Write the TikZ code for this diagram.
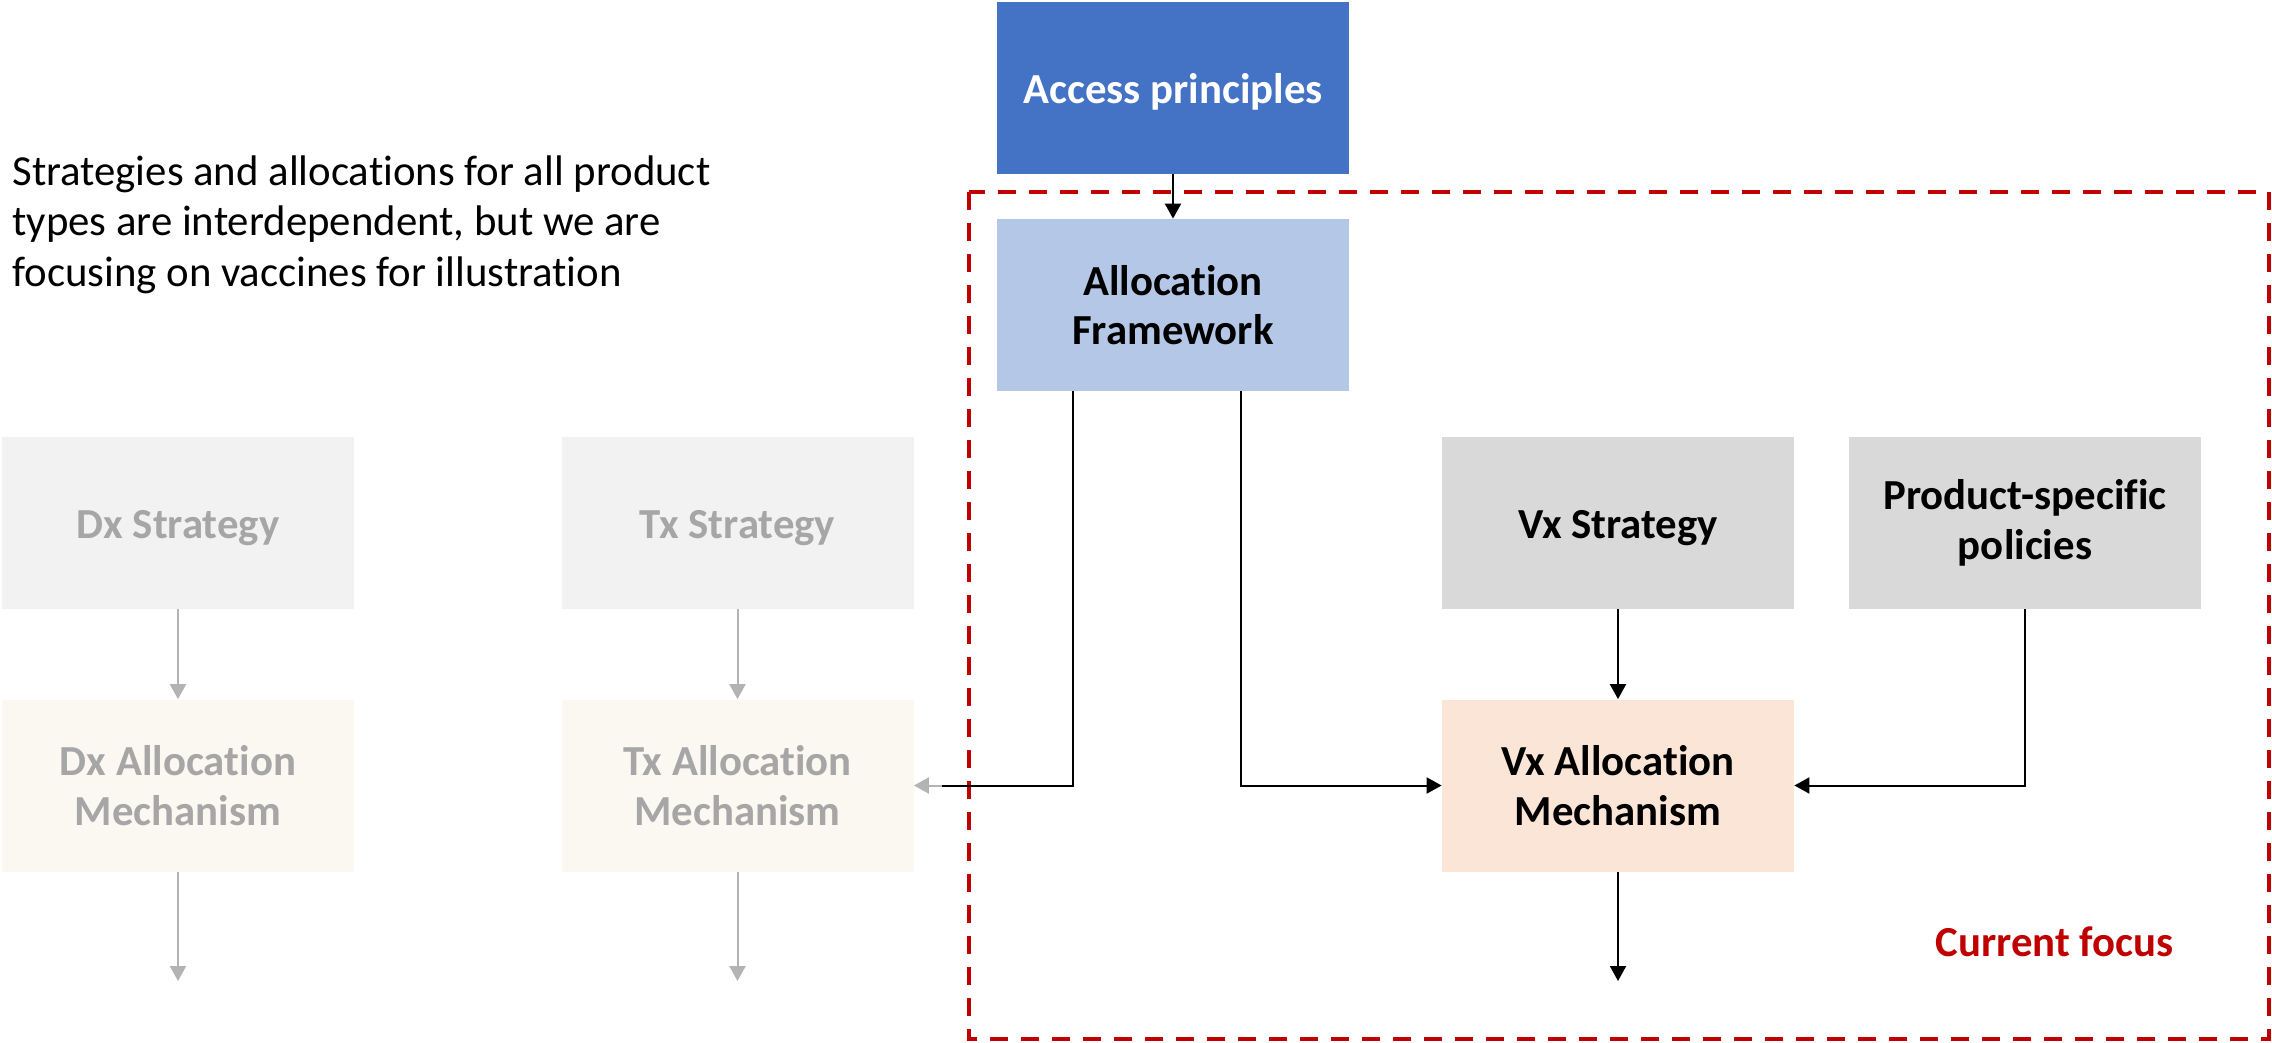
\documentclass[tikz,border=0pt]{standalone}
\usepackage{fontspec}
\setmainfont{Carlito}[Ligatures=NoCommon]
\usetikzlibrary{arrows.meta}
\definecolor{apblue}{HTML}{4472C4}
\definecolor{afblue}{HTML}{B4C7E7}
\definecolor{vxgray}{HTML}{D9D9D9}
\definecolor{vxpeach}{HTML}{FBE5D6}
\definecolor{fadegray}{HTML}{F2F2F2}
\definecolor{fadepeach}{HTML}{FBF7F1}
\definecolor{fadetext}{HTML}{A6A6A6}
\definecolor{fadeline}{HTML}{B3B3B3}
\definecolor{focusred}{HTML}{C00000}
\newcommand\pptTop{\rule{0pt}{20.8pt}}
\newcommand\pptBot{\rule[-5.35pt]{0pt}{0pt}}
\tikzset{
  box/.style={minimum width=176pt, minimum height=86pt, inner sep=0pt, align=center,
    font=\fontsize{21.4}{24.8}\selectfont\bfseries,
    execute at begin node=\pptTop},
  oneline/.style={execute at end node=\pptBot},
  fadebox/.style={box, text=fadetext},
  blk/.style={draw=black, line width=1pt, -{Triangle[length=7.5pt,width=8pt]}},
  blkline/.style={draw=black, line width=1pt},
  fade/.style={draw=fadeline, line width=1pt, -{Triangle[length=7.5pt,width=8pt]}},
  focusbox/.style={draw=focusred, line width=2pt, dash pattern=on 9pt off 6.5pt},
}
\begin{document}
\begin{tikzpicture}[x=0.5pt,y=-0.5pt]
\useasboundingbox[fill=white] (0,0) rectangle (2272,1043);

% focus frame
\draw[focusbox] (969,192) rectangle (2269,1039);

% boxes
\node[box, oneline, fill=apblue, text=white] (ap) at (1173,88) {Access principles};
\node[box, fill=afblue] (af) at (1173,305) {Allocation\\Framework};
\node[fadebox, oneline, fill=fadegray] (dxs) at (178,523) {Dx Strategy};
\node[fadebox, oneline, fill=fadegray] (txs) at (737.5,523) {Tx Strategy};
\node[fadebox, fill=fadepeach] (dxa) at (178,785.5) {Dx Allocation\\Mechanism};
\node[fadebox, fill=fadepeach] (txa) at (737.5,785.5) {Tx Allocation\\Mechanism};
\node[box, oneline, fill=vxgray] (vxs) at (1618,523) {Vx Strategy};
\node[box, fill=vxgray] (ps) at (2025,523) {Product-specific\\policies};
\node[box, fill=vxpeach] (vxa) at (1618,785.5) {Vx Allocation\\Mechanism};

% texts
\node[anchor=north west, inner sep=0pt, align=left, font=\fontsize{21.4}{25.4}\selectfont]
  (note) at (12,155) {Strategies and allocations for all product\\types are interdependent, but we are\\focusing on vaccines for illustration};
\node[anchor=east, inner sep=0pt, text=focusred, font=\fontsize{21.4}{25}\selectfont\bfseries]
  (focus) at (2174,942) {Current focus};

% free ends
\coordinate (dxo) at (178,981);
\coordinate (txo) at (737.5,981);
\coordinate (vxo) at (1618,981);
\coordinate (txg) at (942,785.5);

% connectors
\draw[blk] (ap) -- (af);
\draw[blk] ([xshift=34pt]af.south) |- (vxa.west);
\draw[blkline] ([xshift=-50pt]af.south) |- (txg);
\draw[fade] (txg) -- (txa.east);
\draw[blk] (vxs) -- (vxa);
\draw[blk] (ps.south) |- (vxa.east);
\draw[blk] (vxa) -- (vxo);
\draw[fade] (dxs) -- (dxa);
\draw[fade] (txs) -- (txa);
\draw[fade] (dxa) -- (dxo);
\draw[fade] (txa) -- (txo);
\end{tikzpicture}
\end{document}
